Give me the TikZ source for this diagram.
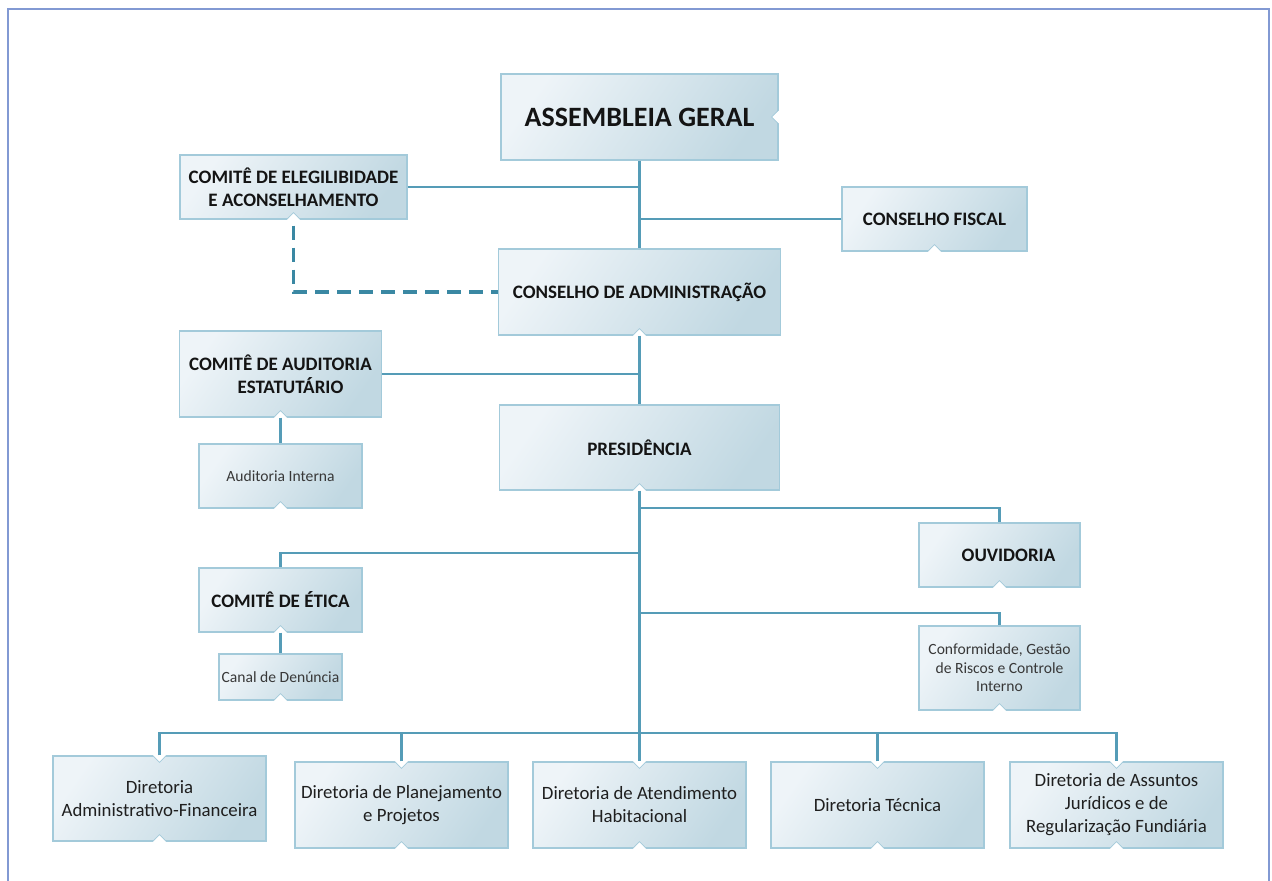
\documentclass[tikz,border=0pt]{standalone}
\usepackage{fontspec}
\setmainfont{Carlito}
\usetikzlibrary{calc}
\definecolor{boxA}{HTML}{EEF4F8}
\definecolor{boxB}{HTML}{C1D8E2}
\definecolor{boxline}{HTML}{A3CADA}
\definecolor{conn}{HTML}{559CB7}
\definecolor{dashc}{HTML}{3A88A3}
\definecolor{framec}{HTML}{8299D3}
\tikzset{
 orgbox/.style={rectangle, draw=boxline, line width=1.2pt, left color=boxA, right color=boxB, shading angle=55, inner sep=0pt, align=center, text=black!92},
 bigt/.style={font=\bfseries\fontsize{28}{32}\selectfont},
 capt/.style={font=\bfseries\fontsize{19}{23}\selectfont},
 dirt/.style={font=\fontsize{18.8}{23}\selectfont, text=black!88},
 smallt/.style={font=\fontsize{15.6}{18.5}\selectfont, text=black!78},
 connector/.style={draw=conn, line width=2.8pt},
 dashline/.style={draw=dashc, line width=3.1pt, dash pattern=on 14pt off 8pt},
 notchfill/.style={fill=white},
 notchedge/.style={draw=boxline, line width=0.8pt},
}
\newcommand\mynotchS[1]{%
 \fill[notchfill] ([xshift=-7pt,yshift=-0.7pt]#1.south) -- ([yshift=7pt]#1.south) -- ([xshift=7pt,yshift=-0.7pt]#1.south) -- cycle;
 \draw[notchedge] ([xshift=-7pt]#1.south) -- ([yshift=7pt]#1.south) -- ([xshift=7pt]#1.south);}
\newcommand\mynotchN[1]{%
 \fill[notchfill] ([xshift=-7pt,yshift=0.7pt]#1.north) -- ([yshift=-7pt]#1.north) -- ([xshift=7pt,yshift=0.7pt]#1.north) -- cycle;
 \draw[notchedge] ([xshift=-7pt]#1.north) -- ([yshift=-7pt]#1.north) -- ([xshift=7pt]#1.north);}
\newcommand\mynotchE[1]{%
 \fill[notchfill] ([xshift=0.7pt,yshift=7pt]#1.east) -- ([xshift=-7pt]#1.east) -- ([xshift=0.7pt,yshift=-7pt]#1.east) -- cycle;
 \draw[notchedge] ([yshift=7pt]#1.east) -- ([xshift=-7pt]#1.east) -- ([yshift=-7pt]#1.east);}
\begin{document}
\begin{tikzpicture}[x=1pt,y=-1pt]
\useasboundingbox (0,0) rectangle (1272,881);
\fill[white] (0,0) rectangle (1272,881);
\draw[framec, line width=2pt] (8,885) -- (8,9) -- (1269,9) -- (1269,885);

% nodes
\node[orgbox, bigt, minimum width=277, minimum height=86] (ag) at (639.5,117) {ASSEMBLEIA GERAL};
\node[orgbox, capt, minimum width=227, minimum height=64] (ce) at (293.5,187) {COMITÊ DE ELEGILIBIDADE\\E ACONSELHAMENTO};
\node[orgbox, capt, minimum width=185, minimum height=64] (cf) at (934.5,219) {CONSELHO FISCAL};
\node[orgbox, capt, minimum width=282, minimum height=86] (cadm) at (639.5,292) {CONSELHO DE ADMINISTRAÇÃO};
\node[orgbox, capt, minimum width=202, minimum height=86] (ca) at (280.5,374) {COMITÊ DE AUDITORIA\\\hspace*{20pt}ESTATUTÁRIO};
\node[orgbox, capt, minimum width=280, minimum height=85] (pres) at (639.5,447.5) {PRESIDÊNCIA};
\node[orgbox, smallt, minimum width=163, minimum height=64] (ai) at (280.5,476) {Auditoria Interna};
\node[orgbox, capt, minimum width=161, minimum height=64] (ouv) at (999.5,555) {\hspace*{18pt}OUVIDORIA};
\node[orgbox, smallt, minimum width=161, minimum height=84] (conf) at (999.5,668) {Conformidade, Gestão\\de Riscos e Controle\\Interno};
\node[orgbox, capt, minimum width=163, minimum height=64] (etica) at (280.5,600) {COMITÊ DE ÉTICA};
\node[orgbox, smallt, minimum width=123, minimum height=46] (canal) at (280.5,677) {Canal de Denúncia};
\node[orgbox, dirt, minimum width=213, minimum height=85] (d1) at (159.5,798.5) {Diretoria\\Administrativo-Financeira};
\node[orgbox, dirt, minimum width=213, minimum height=86] (d2) at (401.5,805) {Diretoria de Planejamento\\e Projetos};
\node[orgbox, dirt, minimum width=213, minimum height=86] (d3) at (639.5,805) {Diretoria de Atendimento\\Habitacional};
\node[orgbox, dirt, minimum width=213, minimum height=86] (d4) at (877.5,805) {Diretoria Técnica};
\node[orgbox, dirt, minimum width=213, minimum height=86] (d5) at (1116.5,805) {Diretoria de Assuntos\\Jurídicos e de\\Regularização Fundiária};

% notches
\mynotchE{ag}
\mynotchS{ce}\mynotchS{cf}\mynotchS{cadm}\mynotchS{ca}\mynotchS{pres}\mynotchS{ai}
\mynotchS{ouv}\mynotchS{conf}\mynotchS{etica}\mynotchS{canal}
\mynotchS{d1}\mynotchS{d2}\mynotchS{d3}\mynotchS{d4}\mynotchS{d5}
\mynotchN{d1}\mynotchN{d2}\mynotchN{d3}\mynotchN{d4}\mynotchN{d5}

% junctions
\coordinate (jOuv) at (639.5,508);
\coordinate (jEt) at (639.5,553);
\coordinate (jCf) at (639.5,613);
\coordinate (bus) at (639.5,733);

% connectors
\draw[connector] (ag.south) -- (cadm.north);
\draw[connector] (ce.east) -- (ce.east -| ag.south);
\draw[connector] (cf.west) -- (cf.west -| ag.south);
\draw[dashline] ([yshift=-6pt]ce.south) -- (ce.south |- cadm.west) -- (cadm.west);
\draw[connector] (cadm.south) -- (pres.north);
\draw[connector] (ca.east) -- (ca.east -| pres.north);
\draw[connector] (ca.south) -- (ai.north);
\draw[connector] (pres.south) -- (d3.north);
\draw[connector] (jOuv) -| (ouv.north);
\draw[connector] (jEt) -| (etica.north);
\draw[connector] (jCf) -| (conf.north);
\draw[connector] (etica.south) -- (canal.north);
\draw[connector] (d1.north) -- (d1.north |- bus) -- (d5.north |- bus) -- (d5.north);
\draw[connector] (d2.north) -- (d2.north |- bus);
\draw[connector] (d4.north) -- (d4.north |- bus);
\end{tikzpicture}
\end{document}
